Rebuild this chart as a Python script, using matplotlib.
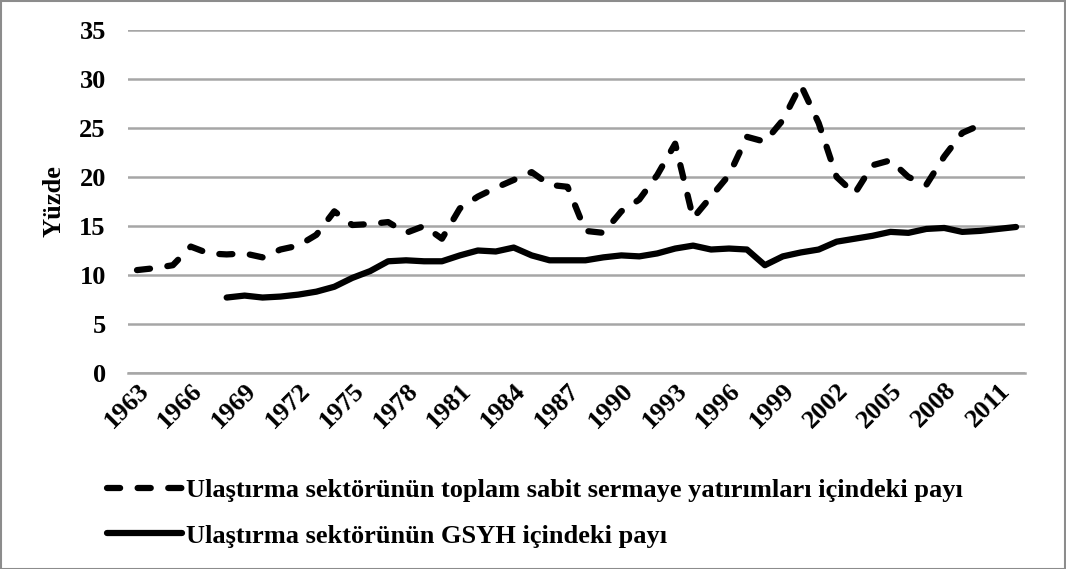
import numpy as np
import matplotlib
matplotlib.use("Agg")
from matplotlib import pyplot as plt
from matplotlib.patches import Rectangle

years = list(range(1963, 2013))
tick_years = list(range(1963, 2012, 3))

# Ulaştırma sektörünün toplam sabit sermaye yatırımları içindeki payı (1963-2010)
invest_share = [10.5, 10.7, 11.0, 12.9, 12.2, 12.1, 12.2, 11.8, 12.6, 13.0,
                14.1, 16.5, 15.1, 15.2, 15.4, 14.3, 15.0, 13.7, 16.8, 18.0,
                18.9, 19.7, 20.5, 19.2, 19.0, 14.5, 14.3, 16.5, 17.7, 20.2,
                23.4, 15.8, 18.0, 20.2, 24.1, 23.6, 25.8, 29.4, 25.5, 20.0,
                18.3, 21.2, 21.7, 20.0, 19.2, 22.1, 24.5, 25.3]
# Ulaştırma sektörünün GSYH içindeki payı (1968-2012)
gdp_share = [7.7, 7.9, 7.7, 7.8, 8.0,
             8.3, 8.8, 9.7, 10.4, 11.4, 11.5, 11.4, 11.4, 12.0, 12.5,
             12.4, 12.8, 12.0, 11.5, 11.5, 11.5, 11.8, 12.0, 11.9, 12.2,
             12.7, 13.0, 12.6, 12.7, 12.6, 11.0, 11.9, 12.3, 12.6, 13.4,
             13.7, 14.0, 14.4, 14.3, 14.7, 14.8, 14.4, 14.5, 14.7, 14.9]

label_invest = "Ulaştırma sektörünün toplam sabit sermaye yatırımları içindeki payı"
label_gdp = "Ulaştırma sektörünün GSYH içindeki payı"

plt.rcParams["font.family"] = ["Liberation Serif", "DejaVu Serif"]
plt.rcParams["font.weight"] = "bold"
FS = 19

W, H = 1066, 569
fig = plt.figure(figsize=(W / 100, H / 100), dpi=100)
ax = fig.add_axes([128 / W, 1 - 373 / H, (1025 - 128) / W, (373 - 30) / H])

x_inv = np.arange(len(invest_share))
x_gdp = np.arange(len(gdp_share)) + (1968 - 1963)

l1, = ax.plot(x_inv, invest_share, color="black", lw=4.5, ls=(0, (2.1, 2.8)),
              dash_capstyle="round", solid_capstyle="round", solid_joinstyle="round")
l2, = ax.plot(x_gdp, gdp_share, color="black", lw=4.5,
              solid_capstyle="round", solid_joinstyle="round")

ax.set_xlim(-0.5, len(years) - 0.5)
ax.set_ylim(0, 35)
ax.set_yticks(range(0, 36, 5))
ax.yaxis.grid(True, color="#a6a6a6", lw=1.8)
ax.set_axisbelow(True)
for s in ["top", "right", "left"]:
    ax.spines[s].set_visible(False)
ax.spines["bottom"].set_color("#a6a6a6")
ax.spines["bottom"].set_linewidth(1.8)
ax.tick_params(axis="both", length=0, labelsize=FS)
ax.tick_params(axis="y", pad=16)
ax.tick_params(axis="x", pad=4)
ax.set_xticks([y - 1963 for y in tick_years])
ax.set_xticklabels([str(y) for y in tick_years], rotation=45, ha="right",
                   rotation_mode="anchor", fontweight="bold")
for t in ax.get_yticklabels():
    t.set_fontweight("bold")
ax.set_ylabel("Yüzde", fontsize=FS, fontweight="bold", labelpad=10)

fig.legend([l1, l2], [label_invest, label_gdp], loc="center left",
           bbox_to_anchor=(83 / W, 1 - 513 / H), frameon=False,
           handlelength=2.85, handletextpad=0.15, labelspacing=0.85,
           prop={"weight": "bold", "size": FS})

fig.patches.append(Rectangle((0.5 / W, 0.5 / H), 1 - 1.5 / W, 1 - 1.5 / H,
                             transform=fig.transFigure, fill=False,
                             edgecolor="#8c8c8c", lw=1.5))

fig.savefig("out.png", dpi=100)
